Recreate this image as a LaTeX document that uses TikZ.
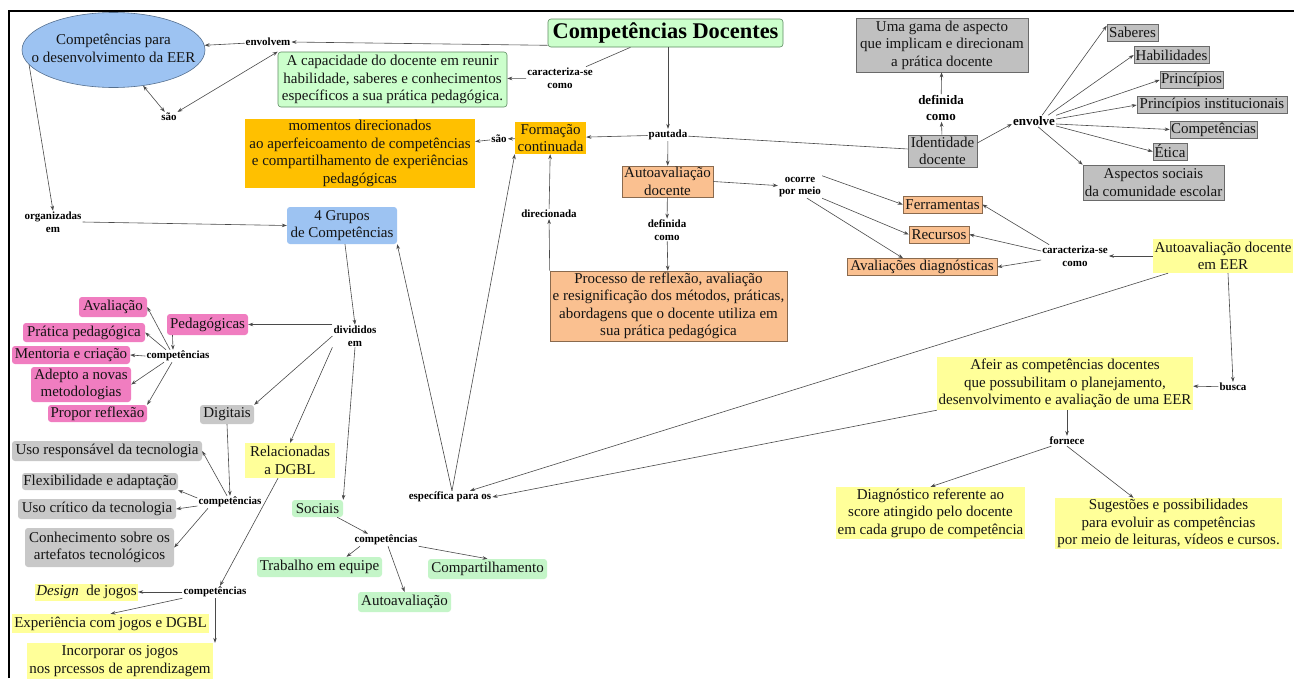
\documentclass[tikz,border=0pt]{standalone}
\usepackage{fontspec}
\setmainfont{Liberation Serif}
\usetikzlibrary{shapes.geometric,arrows.meta}

\definecolor{pgreen}{HTML}{CCFFCC}
\definecolor{lgreen}{HTML}{C4F5C8}
\definecolor{greenedge}{HTML}{5E8C62}
\definecolor{skyb}{HTML}{9DC3F2}
\definecolor{skyedge}{HTML}{56708F}
\definecolor{amber}{HTML}{FFC000}
\definecolor{peach}{HTML}{FAC090}
\definecolor{peachedge}{HTML}{8A6A4E}
\definecolor{silver}{HTML}{C0C0C0}
\definecolor{softgray}{HTML}{C8C8C8}
\definecolor{grayedge}{HTML}{6A6A6A}
\definecolor{rose}{HTML}{F07DC0}
\definecolor{lemon}{HTML}{FFFF99}
\definecolor{linkc}{HTML}{4A4A4A}

\tikzset{
  concept/.style={inner sep=0pt, align=center, font=\fontsize{15}{17.5}\selectfont, text=black!92},
  wh/.style 2 args={minimum width=#1pt, minimum height=#2pt},
  link/.style={inner sep=1pt, align=center, font=\bfseries\fontsize{11}{12.5}\selectfont},
  biglink/.style={inner sep=1pt, align=center, font=\bfseries\fontsize{13}{16}\selectfont},
  con/.style={draw=linkc, line width=0.6pt},
  arr/.style={con, -{Stealth[length=5pt,width=3.6pt]}},
  darr/.style={con, {Stealth[length=5pt,width=3.6pt]}-{Stealth[length=5pt,width=3.6pt]}},
  greenframe/.style={concept, fill=pgreen, draw=greenedge, line width=0.6pt, rounded corners=3pt},
  greenbox/.style={concept, fill=lgreen, rounded corners=3pt},
  bluebox/.style={concept, fill=skyb, rounded corners=3pt},
  amberbox/.style={concept, fill=amber},
  peachbox/.style={concept, fill=peach, draw=peachedge, line width=0.6pt},
  graybox/.style={concept, fill=silver, draw=grayedge, line width=0.6pt},
  grayround/.style={concept, fill=softgray, rounded corners=3pt},
  pinkbox/.style={concept, fill=rose, rounded corners=3pt},
  yellowbox/.style={concept, fill=lemon},
}

\begin{document}
\begin{tikzpicture}[x=1pt,y=-1pt]
\useasboundingbox (0,0) rectangle (1294,678);
\fill[white] (0,0) rectangle (1294,678);

% outer frame
\draw[line width=2pt] (9,678) -- (9,11) -- (1294,11);

% ---------- central concept and its direct links ----------
\node[greenframe, wh={235}{28}, font=\bfseries\fontsize{22.4}{26}\selectfont, text=black] (title) at (665.5,33) {Competências Docentes};

% the ellipse keeps its own size: its text is set in a box of zero width
\node[concept, ellipse, fill=skyb, draw=skyedge, line width=0.6pt, wh={183}{75}] (eer) at (113.5,50)
  {\makebox[0pt]{\begin{tabular}{@{}c@{}}Competências para\\o desenvolvimento da EER\end{tabular}}};
\node[link] (envolvem) at (268,42) {envolvem};
\node[greenframe, wh={229}{55}] (cap) at (392.5,79.5) {A capacidade do docente em reunir\\habilidade, saberes e conhecimentos\\específicos a sua prática pedagógica.};
\node[link] (sao1) at (169,117) {são};
\node[link] (car1) at (560,78) {caracteriza-se\\como};
\node[link] (pautada) at (668,135) {pautada};

% ---------- formação continuada ----------
\node[amberbox, wh={71}{32}] (formacao) at (550.5,138) {Formação\\continuada};
\node[link] (sao2) at (499,139) {são};
\node[amberbox, wh={230}{69}] (momentos) at (360,153.5) {momentos direcionados\\ao aperfeicoamento de competências\\e compartilhamento de experiências\\pedagógicas};
\node[link] (direc) at (549,214) {direcionada};

% ---------- autoavaliação docente ----------
\node[peachbox, wh={91}{31}] (autoav) at (667.5,181.5) {Autoavaliação\\docente};
\node[link] (def1) at (667,230) {definida\\como};
\node[peachbox, wh={237}{70}] (processo) at (668.5,306) {Processo de reflexão, avaliação\\e resignificação dos métodos, práticas,\\abordagens que o docente utiliza em\\sua prática pedagógica};
\node[link] (ocorre) at (800,187) {ocorre\\por meio};
\node[peachbox, wh={79}{17}] (ferr) at (942.5,204.5) {Ferramentas};
\node[peachbox, wh={60}{17}] (recursos) at (939,234.5) {Recursos};
\node[peachbox, wh={150}{17}] (aval) at (922,267) {Avaliações diagnósticas};
\node[link] (car2) at (1075,256) {caracteriza-se\\como};

% ---------- autoavaliação docente em EER ----------
\node[yellowbox, wh={140}{34}] (autoeer) at (1223,256) {Autoavaliação docente\\em EER};
\node[link] (busca) at (1233,387) {busca};
\node[yellowbox, wh={256}{53}] (afeir) at (1065,383.5) {Afeir as competências docentes\\que possubilitam o planejamento,\\desenvolvimento e avaliação de uma EER};
\node[link] (fornece) at (1067,441) {fornece};
\node[yellowbox, wh={189}{52}] (diag) at (930.5,513) {Diagnóstico referente ao\\score atingido pelo docente\\em cada grupo de competência};
\node[yellowbox, wh={227}{51}] (sug) at (1168.5,523.5) {Sugestões e possibilidades\\para evoluir as competências\\por meio de leituras, vídeos e cursos.};
\node[link] (espec) at (450,497) {específica para os};

% ---------- identidade docente ----------
\node[graybox, wh={69}{32}] (ident) at (942.5,151) {Identidade\\docente};
\node[biglink] (def2) at (941,108) {definida\\como};
\node[graybox, wh={172}{54}] (gama) at (942,45) {Uma gama de aspecto\\que implicam e direcionam\\a prática docente};
\node[biglink] (envolve) at (1034,121) {envolve};
\node[graybox, wh={51}{17}] (saberes) at (1132.5,32.5) {Saberes};
\node[graybox, wh={75}{17}] (habil) at (1171.5,55) {Habilidades};
\node[graybox, wh={63}{17}] (princ) at (1191.5,80) {Princípios};
\node[graybox, wh={150}{17}] (pinst) at (1212,105) {Princípios institucionais};
\node[graybox, wh={87}{17}] (compet) at (1213.5,129.5) {Competências};
\node[graybox, wh={34}{17}] (etica) at (1170,151.5) {Ética};
\node[graybox, wh={141}{35}] (aspect) at (1153.5,182.5) {Aspectos sociais\\da comunidade escolar};

% ---------- grupos de competências ----------
\node[link] (organiz) at (53,222) {organizadas\\em};
\node[bluebox, wh={110}{37}] (quatro) at (342,225.5) {4 Grupos\\de Competências};
\node[link] (divid) at (355,336) {divididos\\em};

\node[pinkbox, wh={81}{21}] (pedag) at (207.5,324.5) {Pedagógicas};
\node[link] (comp1) at (178,356) {competências};
\node[pinkbox, wh={68}{20}] (avaliacao) at (113,307) {Avaliação};
\node[pinkbox, wh={122}{19}] (pratica) at (84,332.5) {Prática pedagógica};
\node[pinkbox, wh={118}{18}] (mentoria) at (71,355) {Mentoria e criação};
\node[pinkbox, wh={100}{35}] (adepto) at (81,384.5) {Adepto a novas\\metodologias};
\node[pinkbox, wh={99}{17}] (propor) at (97.5,413.5) {Propor reflexão};

\node[grayround, wh={54}{19}] (digitais) at (227,414.5) {Digitais};
\node[link] (comp2) at (230,502) {competências};
\node[grayround, wh={190}{20}] (usoresp) at (107,451) {Uso responsável da tecnologia};
\node[grayround, wh={156}{17}] (flex) at (100,481.5) {Flexibilidade e adaptação};
\node[grayround, wh={158}{20}] (usocrit) at (97,509) {Uso crítico da tecnologia};
\node[grayround, wh={149}{39}] (conhec) at (99.5,547.5) {Conhecimento sobre os\\artefatos tecnológicos};

\node[yellowbox, wh={90}{35}] (relac) at (290,460.5) {Relacionadas\\a DGBL};
\node[link] (comp3) at (215,592) {competências};
\node[yellowbox, wh={103}{17}] (design) at (86.5,592) {{\itshape Design}\ \ de jogos};
\node[yellowbox, wh={197}{19}] (exper) at (110.5,623.5) {Experiência com jogos e DGBL};
\node[yellowbox, wh={186}{36}] (incorp) at (120,661) {Incorporar os jogos\\nos prcessos de aprendizagem};

\node[greenbox, wh={51}{17}] (sociais) at (317.5,508.5) {Sociais};
\node[link] (comp4) at (386,540) {competências};
\node[greenbox, wh={125}{20}] (trab) at (319.5,567) {Trabalho em equipe};
\node[greenbox, wh={93}{20}] (autoav2) at (404.5,602) {Autoavaliação};
\node[greenbox, wh={119}{20}] (compart) at (487.5,569) {Compartilhamento};

% ---------- connectors ----------
\draw[arr] ([yshift=2pt]title.south west) -- (envolvem.east);
\draw[arr] (envolvem) -- (eer);
\draw[darr] (eer) -- (sao1);
\draw[darr] (sao1) -- (cap.north west);
\draw[con] ([xshift=-35pt]title.south) -- (car1);
\draw[arr] (car1) -- (cap);
\draw[arr] (title.south -| pautada.north) -- (pautada);
\draw[arr] (pautada) -- (formacao);
\draw[arr] (pautada) -- (autoav);
\draw[con] (pautada) -- (ident);

\draw[arr] (formacao) -- (sao2);
\draw[arr] (sao2) -- (momentos);
\draw[arr] (processo.north west) -- (direc);
\draw[arr] (direc) -- (formacao);

\draw[arr] (autoav) -- (def1);
\draw[arr] (def1) -- (processo);
\draw[arr] (autoav.east) -- (ocorre);
\draw[arr] (ocorre.north east) -- (ferr.west);
\draw[arr] (ocorre.south east) -- (recursos.west);
\draw[arr] ([xshift=7pt]ocorre.south) -- ([xshift=-19pt]aval.north);
\draw[arr] ([xshift=8pt]car2.north west) -- (ferr.east);
\draw[arr] ([yshift=5pt]car2.west) -- (recursos.east);
\draw[arr] ([yshift=-4pt]car2.west) -- (aval.east);

\draw[arr] (autoeer) -- (car2);
\draw[arr] ([xshift=5pt]autoeer.south) -- (busca.north);
\draw[arr] (busca) -- (afeir);
\draw[arr] (afeir.south -| fornece.north) -- (fornece);
\draw[arr] ([xshift=3pt]fornece.south west) -- (diag.north);
\draw[arr] (fornece.south) -- ([xshift=-35pt]sug.north);
\draw[arr] (afeir.south west) -- (espec.east);
\draw[arr] ([xshift=-55pt]autoeer.south) -- ([xshift=20pt]espec.north);
\draw[arr] ([xshift=2pt]espec.north) -- (quatro.south east);
\draw[arr] ([xshift=2pt]espec.north) -- (formacao.south west);

\draw[arr] (ident) -- (def2);
\draw[arr] (def2) -- (gama);
\draw[arr] ([yshift=8pt]ident.east) -- ([yshift=-3pt]envolve.west);
\draw[arr] ([xshift=-14pt]envolve.north east) -- ([yshift=-2pt]saberes.north west);
\draw[arr] ([xshift=-8pt]envolve.north east) -- (habil.west);
\draw[arr] (envolve.north east) -- (princ.west);
\draw[arr] ([yshift=2pt]envolve.east) -- (pinst.west);
\draw[arr] ([yshift=-3pt]envolve.east) -- (compet.west);
\draw[arr] ([yshift=-5pt]envolve.east) -- (etica.west);
\draw[arr] ([xshift=4pt]envolve.south) -- (aspect.north west);

\draw[arr] (eer.190) -- (organiz.north);
\draw[arr] (organiz.east) -- (quatro.west);
\draw[arr] ([xshift=3pt]quatro.south) -- (divid.north);
\draw[arr] (divid.west |- pedag.east) -- (pedag.east);
\draw[arr] (divid.west) -- (digitais.north east);
\draw[arr] (divid.south west) -- (relac.north);
\draw[arr] (divid.south) -- (sociais.north east);

\draw[arr] ([xshift=-35pt]pedag.south) -- ([xshift=-5pt]comp1.north);
\draw[arr] ([xshift=-8pt]comp1.north) -- (avaliacao.east);
\draw[arr] ([xshift=-12pt]comp1.north) -- (pratica.east);
\draw[arr] (comp1.west) -- (mentoria.east);
\draw[arr] ([xshift=-14pt]comp1.south) -- (adepto.east);
\draw[arr] ([xshift=-6pt]comp1.south) -- (propor.north east);

\draw[arr] (digitais.south) -- (comp2.north);
\draw[arr] ([xshift=-3pt]comp2.north) -- (usoresp.east);
\draw[arr] ([yshift=4pt]comp2.west) -- (flex.south east);
\draw[arr] ([yshift=-4pt]comp2.west) -- (usocrit.east);
\draw[arr] ([xshift=-22pt]comp2.south) -- (conhec.east);

\draw[arr] ([xshift=-12pt]relac.south) -- ([xshift=5pt]comp3.north);
\draw[arr] (comp3.west) -- (design.east);
\draw[arr] (comp3.south west) -- (exper.north);
\draw[arr] (comp3.south) -- (incorp.north -| comp3.south);

\draw[arr] ([xshift=-6pt]sociais.south east) -- ([xshift=-18pt]comp4.north);
\draw[arr] ([xshift=-26pt]comp4.south) -- ([xshift=27pt]trab.north);
\draw[arr] ([xshift=2pt]comp4.south) -- (autoav2.north);
\draw[arr] (comp4.south east) -- (compart.north);
\end{tikzpicture}
\end{document}
